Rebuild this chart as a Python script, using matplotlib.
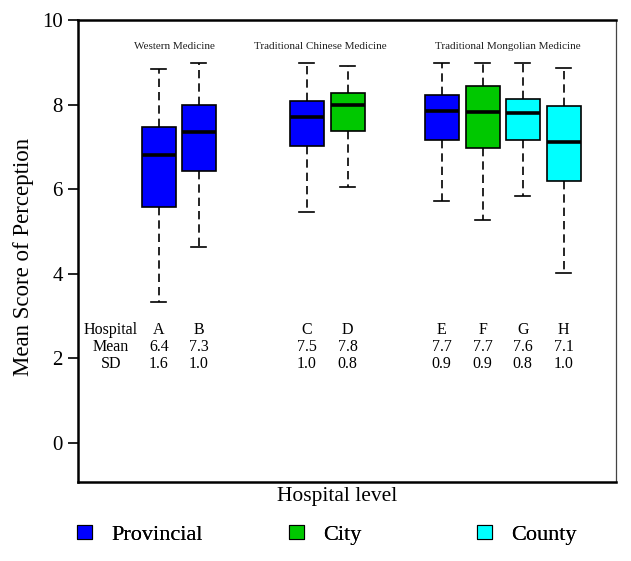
#!/usr/bin/env python3
import matplotlib as mpl
mpl.use('Agg')
import matplotlib.pyplot as plt
from matplotlib.patches import Patch

# +
# data
# -
hospitals = ['A', 'B', 'C', 'D', 'E', 'F', 'G', 'H']
positions = [1.0, 2.0, 4.7, 5.72, 8.07, 9.1, 10.1, 11.12]
levels = ['Provincial', 'Provincial', 'Provincial', 'City', 'Provincial', 'City', 'County', 'County']
whislo = [3.33, 4.63, 5.45, 6.05, 5.73, 5.27, 5.84, 4.01]
q1 = [5.59, 6.44, 7.02, 7.38, 7.16, 6.98, 7.16, 6.19]
med = [6.81, 7.36, 7.70, 7.98, 7.84, 7.82, 7.80, 7.12]
q3 = [7.48, 7.99, 8.09, 8.27, 8.23, 8.44, 8.13, 7.97]
whishi = [8.83, 8.99, 8.99, 8.91, 8.99, 8.99, 8.99, 8.87]
means = ['6.4', '7.3', '7.5', '7.8', '7.7', '7.7', '7.6', '7.1']
sds = ['1.6', '1.0', '1.0', '0.8', '0.9', '0.9', '0.8', '1.0']
groups = ['Western Medicine', 'Traditional Chinese Medicine', 'Traditional Mongolian Medicine']
group_x = [1.4, 5.03, 9.73]
level_colors = {'Provincial': '#0000FF', 'City': '#00C800', 'County': '#00FFFF'}

plt.rcParams['font.family'] = ['Liberation Serif', 'DejaVu Serif']

# +
# figure
# -
fig = plt.figure(figsize=(6.31, 5.61), dpi=100)
ax = fig.add_axes([78 / 631, 1 - 482 / 561, (616 - 78) / 631, (482 - 20) / 561])

stats = []
for i, h in enumerate(hospitals):
    stats.append({'label': h, 'whislo': whislo[i], 'q1': q1[i], 'med': med[i],
                  'q3': q3[i], 'whishi': whishi[i], 'fliers': []})

bp = ax.bxp(stats, positions=positions, widths=0.85, patch_artist=True,
            showfliers=False, capwidths=0.38,
            boxprops={'linewidth': 1.2, 'edgecolor': 'black'},
            medianprops={'linewidth': 2.6, 'color': 'black'},
            whiskerprops={'linewidth': 1.2, 'linestyle': (0, (5, 3)), 'color': 'black'},
            capprops={'linewidth': 1.2, 'color': 'black'})
for patch, lv in zip(bp['boxes'], levels):
    patch.set_facecolor(level_colors[lv])

# group titles
for g, gx in zip(groups, group_x):
    ax.text(gx, 9.38, g, ha='center', va='center', fontsize=8, color='#222222')

# table of hospital / mean / sd
row_y = [2.67, 2.27, 1.87]
for lab, ry in zip(['Hospital', 'Mean', 'SD'], row_y):
    ax.text(-0.2, ry, lab, ha='center', va='center', fontsize=11.5)
for i, p in enumerate(positions):
    ax.text(p, row_y[0], hospitals[i], ha='center', va='center', fontsize=11.5)
    ax.text(p, row_y[1], means[i], ha='center', va='center', fontsize=11.5)
    ax.text(p, row_y[2], sds[i], ha='center', va='center', fontsize=11.5)

# axes
ax.set_xlim(-1.02, 12.43)
ax.set_ylim(-0.92, 10)
ax.set_yticks([0, 2, 4, 6, 8, 10])
ax.set_xticks([])
ax.tick_params(axis='y', direction='out', length=7, width=1.2, labelsize=15, pad=4)
ax.set_ylabel('Mean Score of Perception', fontsize=16.5)
ax.yaxis.set_label_coords(-0.081, 0.487)
for s in ['left', 'top', 'bottom']:
    ax.spines[s].set_linewidth(1.8)
ax.spines['right'].set_linewidth(0.9)
ax.spines['right'].set_color('#444444')

fig.text(337 / 631, 1 - 497 / 561, 'Hospital level', ha='center', va='center', fontsize=15.5)

# legend, one per level so the spacing follows the picture
leg_x = [77, 289, 477]
for lv, lx in zip(['Provincial', 'City', 'County'], leg_x):
    h = Patch(facecolor=level_colors[lv], edgecolor='black', linewidth=0.8)
    lg = fig.legend([h], [lv], loc='center left', bbox_to_anchor=(lx / 631, 1 - 535 / 561),
                    frameon=False, fontsize=16, handlelength=0.68, handleheight=0.6,
                    handletextpad=0.85, borderpad=0, borderaxespad=0)
    fig.add_artist(lg)

plt.savefig('out.png', dpi=100)
